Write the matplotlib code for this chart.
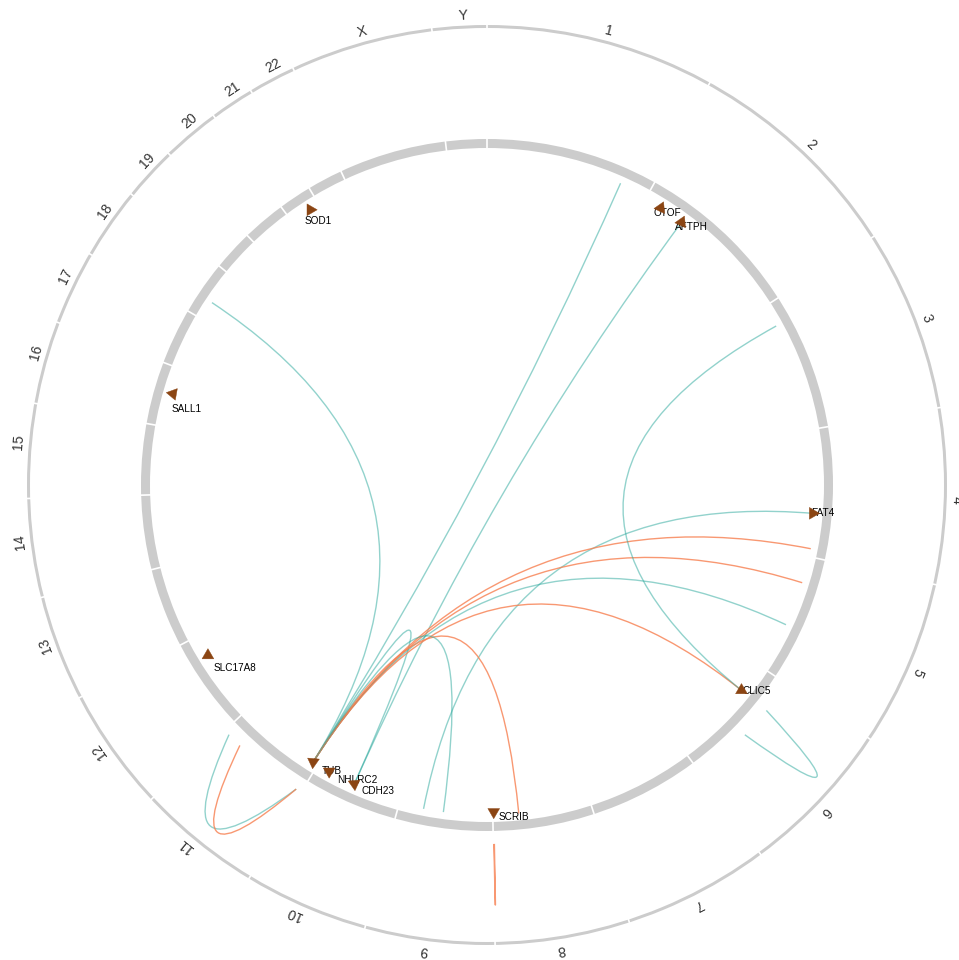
import numpy as np
import matplotlib
matplotlib.use("Agg")
import matplotlib.pyplot as plt
from matplotlib.path import Path
from matplotlib.patches import PathPatch, Polygon, Wedge

plt.rcParams['font.family'] = ['Liberation Sans', 'DejaVu Sans']

# ---- genome (hg19, sizes in Mb) ----
chrom_names = ['1', '2', '3', '4', '5', '6', '7', '8', '9', '10', '11', '12',
               '13', '14', '15', '16', '17', '18', '19', '20', '21', '22', 'X', 'Y']
chrom_sizes = [249.25, 243.20, 198.02, 191.15, 180.92, 171.12, 159.14, 146.36,
               141.21, 135.53, 135.01, 133.85, 115.17, 107.35, 102.53, 90.35,
               81.20, 78.08, 59.13, 63.03, 48.13, 51.30, 155.27, 59.37]

# ---- labelled genes ----
gene_names = ['OTOF', 'AFTPH', 'FAT4', 'CLIC5', 'SCRIB', 'CDH23', 'NHLRC2',
              'TUB', 'SLC17A8', 'SALL1', 'SOD1']
gene_chroms = ['2', '2', '4', '6', '8', '10', '10', '11', '12', '16', '21']
gene_pos = [26.7, 64.8, 126.2, 45.9, 144.9, 73.2, 115.6, 8.06, 100.7, 51.2, 33.0]

# ---- links (chrom, Mb) -> (chrom, Mb), with link group ----
link_a_chrom = ['11', '2', '11', '11', '4', '11', '11', '11', '11', '3', '11', '11',
                '11', '11', '6', '8']
link_a_pos = [8.06, 64.8, 8.06, 8.06, 126.2, 8.06, 8.06, 8.06, 8.06, 33.8, 8.06, 8.06,
              8.06, 8.06, 45.9, 144.9]
link_b_chrom = ['1', '10', '10', '18', '9', '4', '5', '5', '6', '6', '8', '9',
                '11', '11', '6', '8']
link_b_pos = [205.3, 73.2, 73.2, 28.9, 104.0, 179.2, 40.4, 107.7, 45.9, 45.9, 107.5, 74.0,
              127.0, 106.0, 90.5, 145.6]
link_group = ['A', 'A', 'A', 'A', 'A', 'B', 'B', 'A', 'B', 'A', 'B', 'A',
              'A', 'B', 'A', 'B']

# ---- styling ----
group_color = {'A': '#26a69a', 'B': '#f77f4f'}
group_alpha = {'A': 0.5, 'B': 0.8}
RING_GREY = '#cccccc'
MARKER_COLOR = '#8b4513'
R_OUT_IN, R_OUT_OUT = 457, 460
R_IN_IN, R_IN_OUT = 337, 346
R_LABEL = 470
R_MARK = 327
R_LINK = 330
R_CIS = 359
R_CIS_CTRL = 522

# marker pointing direction (deg, clockwise from up) and label nudge (px right, px down)
marker_dir = {'OTOF': 265, 'AFTPH': 265, 'FAT4': 90, 'CLIC5': 0, 'SCRIB': 180,
              'CDH23': 175, 'NHLRC2': 180, 'TUB': 185, 'SLC17A8': 0,
              'SALL1': 160, 'SOD1': 90}
label_nudge = {'OTOF': (-7.5, 5), 'AFTPH': (-6.5, 5), 'FAT4': (-2, 0),
               'CLIC5': (1.5, 0.5), 'SCRIB': (5, 5), 'CDH23': (7.5, 7),
               'NHLRC2': (8, 8.5), 'TUB': (9, 9), 'SLC17A8': (6, 12.5),
               'SALL1': (-1, 15), 'SOD1': (-5.5, 11)}

# ---- angular layout ----
total = sum(chrom_sizes)
starts = np.concatenate([[0], np.cumsum(chrom_sizes)[:-1]])
chrom_start = dict(zip(chrom_names, starts))
chrom_len = dict(zip(chrom_names, chrom_sizes))


def theta(chrom, pos):
    return (chrom_start[chrom] + pos) / total * 360.0


def pt(th, r):
    t = np.deg2rad(th)
    return np.array([r * np.sin(t), r * np.cos(t)])


W, H = 959, 960
CX, CY = 487, 485
fig = plt.figure(figsize=(W / 100, H / 100), dpi=100)
ax = fig.add_axes([0, 0, 1, 1])
ax.set_xlim(-CX, W - CX)
ax.set_ylim(-(H - CY), CY)
ax.set_aspect('auto')
ax.axis('off')

# ---- ideogram rings ----
for r0, r1 in [(R_OUT_IN, R_OUT_OUT), (R_IN_IN, R_IN_OUT)]:
    ax.add_patch(Wedge((0, 0), r1, 0, 360, width=r1 - r0, facecolor=RING_GREY,
                       edgecolor='none', zorder=1))
    for s in starts:
        th = s / total * 360.0
        p0, p1 = pt(th, r0 - 1), pt(th, r1 + 1)
        ax.plot([p0[0], p1[0]], [p0[1], p1[1]], color='white', lw=1.2,
                solid_capstyle='butt', zorder=2)

# ---- chromosome names ----
for name in chrom_names:
    th = theta(name, chrom_len[name] / 2)
    x, y = pt(th, R_LABEL)
    ax.text(x, y, name, fontsize=10, color='#333333', ha='left', va='center',
            rotation=-th, rotation_mode='anchor', zorder=3)

# ---- links: inter-chromosomal inside the ring, intra-chromosomal outside ----
for ca, pa, cb, pb, g in zip(link_a_chrom, link_a_pos, link_b_chrom, link_b_pos,
                             link_group):
    ta, tb = theta(ca, pa), theta(cb, pb)
    if ca == cb:
        p0, p2 = pt(ta, R_CIS), pt(tb, R_CIS)
        ctrl = pt((ta + tb) / 2, R_CIS_CTRL)
    else:
        p0, p2 = pt(ta, R_LINK), pt(tb, R_LINK)
        ctrl = np.array([0.0, 0.0])
    path = Path([p0, ctrl, p2], [Path.MOVETO, Path.CURVE3, Path.CURVE3])
    ax.add_patch(PathPatch(path, facecolor='none', edgecolor=group_color[g],
                           alpha=group_alpha[g], lw=1.0, zorder=4))

# ---- gene labels and markers ----
for name, c, p in zip(gene_names, gene_chroms, gene_pos):
    th = theta(c, p)
    m = pt(th, R_MARK)
    dx, dy = label_nudge[name]
    ax.text(m[0] + dx, m[1] - dy, name, fontsize=7.2, color='black',
            ha='left', va='center', zorder=5)
    d = marker_dir[name]
    verts = [m + pt(d + k * 120, 6.8) for k in range(3)]
    ax.add_patch(Polygon(verts, closed=True, facecolor=MARKER_COLOR,
                         edgecolor=MARKER_COLOR, lw=0.3, zorder=6))

fig.savefig('out.png', dpi=100)
